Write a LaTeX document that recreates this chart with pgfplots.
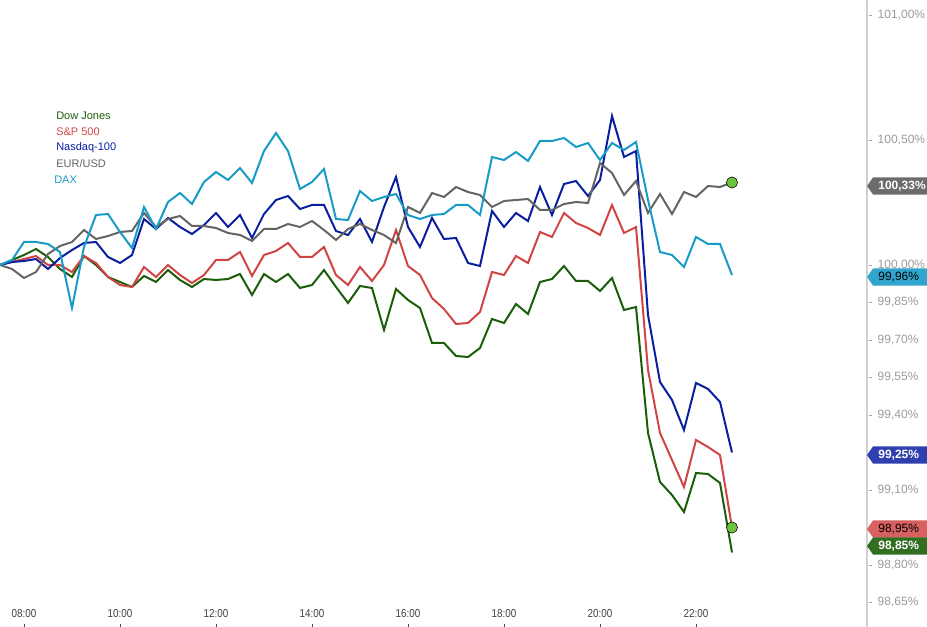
\documentclass[border=0pt]{standalone}
\usepackage{pgfplots}
\pgfplotsset{compat=1.18}
\usepackage{pgfplotstable}
\usepackage{fontspec}
\setmainfont{Liberation Sans}

\definecolor{dowc}{RGB}{26,94,10}
\definecolor{spc}{RGB}{208,68,68}
\definecolor{nasc}{RGB}{10,30,160}
\definecolor{eurc}{RGB}{100,100,100}
\definecolor{daxc}{RGB}{25,155,200}
\definecolor{dotc}{RGB}{110,195,60}
\definecolor{ticklab}{RGB}{155,155,155}

% t in hours, values in % of the start value
\pgfplotstableread{
t     dow     sp      nas     eur     dax
7.50  100.000 100.000 100.000 100.000 100.000
7.75  100.020 100.012 100.012 99.984  100.020
8.00  100.040 100.024 100.016 99.948  100.092
8.25  100.064 100.036 100.024 99.972  100.092
8.50  100.032 100.000 99.984  100.044 100.084
8.75  99.984  100.000 100.028 100.076 100.052
9.00  99.952  99.972  100.060 100.092 99.828
9.25  100.036 100.036 100.088 100.140 100.072
9.50  100.000 100.008 100.092 100.104 100.200
9.75  99.952  99.952  100.032 100.116 100.204
10.00 99.932  99.920  100.008 100.132 100.132
10.25 99.912  99.912  100.040 100.136 100.068
10.50 99.956  99.992  100.184 100.208 100.232
10.75 99.932  99.952  100.144 100.152 100.144
11.00 99.980  100.000 100.188 100.184 100.252
11.25 99.940  99.960  100.152 100.196 100.288
11.50 99.912  99.928  100.124 100.156 100.244
11.75 99.944  99.960  100.160 100.156 100.332
12.00 99.940  100.020 100.208 100.148 100.372
12.25 99.944  100.020 100.152 100.128 100.340
12.50 99.964  100.052 100.200 100.120 100.388
12.75 99.880  99.956  100.108 100.096 100.328
13.00 99.964  100.040 100.204 100.144 100.456
13.25 99.932  100.056 100.260 100.144 100.528
13.50 99.964  100.088 100.276 100.164 100.456
13.75 99.908  100.032 100.224 100.152 100.304
14.00 99.920  100.032 100.240 100.176 100.332
14.25 99.980  100.072 100.240 100.140 100.384
14.50 99.912  99.960  100.136 100.100 100.184
14.75 99.848  99.920  100.120 100.144 100.180
15.00 99.916  99.992  100.184 100.164 100.296
15.25 99.908  99.936  100.092 100.140 100.256
15.50 99.740  100.000 100.232 100.120 100.272
15.75 99.904  100.140 100.352 100.088 100.284
16.00 99.860  99.996  100.152 100.232 100.200
16.25 99.828  99.960  100.072 100.208 100.184
16.50 99.688  99.868  100.188 100.288 100.200
16.75 99.688  99.824  100.104 100.272 100.204
17.00 99.636  99.764  100.108 100.312 100.240
17.25 99.632  99.768  100.008 100.292 100.240
17.50 99.668  99.812  99.996  100.280 100.200
17.75 99.784  99.972  100.216 100.232 100.432
18.00 99.768  99.960  100.152 100.256 100.420
18.25 99.844  100.036 100.208 100.260 100.452
18.50 99.804  100.008 100.176 100.264 100.416
18.75 99.932  100.132 100.312 100.220 100.496
19.00 99.944  100.112 100.200 100.220 100.496
19.25 99.996  100.208 100.324 100.244 100.508
19.50 99.936  100.168 100.336 100.252 100.472
19.75 99.936  100.148 100.276 100.248 100.488
20.00 99.896  100.120 100.340 100.408 100.420
20.25 99.948  100.240 100.596 100.368 100.488
20.50 99.820  100.128 100.432 100.280 100.460
20.75 99.832  100.152 100.456 100.336 100.492
21.00 99.328  99.580  99.800  100.208 100.260
21.25 99.132  99.328  99.532  100.284 100.052
21.50 99.080  99.220  99.460  100.204 100.040
21.75 99.012  99.112  99.340  100.292 99.992
22.00 99.168  99.300  99.528  100.272 100.112
22.25 99.164  99.272  99.504  100.316 100.084
22.50 99.128  99.240  99.452  100.312 100.084
22.75 98.850  98.950  99.250  100.330 99.960
}\quotes

% value tag on the right axis: y, fill, text colour, text, font
\newcommand{\valtag}[5]{%
  \fill[#2] (axis cs:25.5625,#1) -- ++(4.5pt,6.4pt) -- ++(41pt,0pt) -- ++(0pt,-12.8pt) -- ++(-41pt,0pt) -- cycle;
  \node[anchor=west, text=#3, font=#5, inner sep=0pt] at ([xshift=8.3pt]axis cs:25.5625,#1) {#4};
}
\newcommand{\tl}[1]{\scalebox{0.86}[1]{#1}}

\begin{document}
\begin{tikzpicture}
\begin{axis}[
  name=ax,
  scale only axis,
  width=650.25pt, height=470.25pt,
  xmin=7.5, xmax=25.5625,
  ymin=98.552, ymax=101.06,
  axis line style={draw=none},
  clip=false,
  xtick={8,10,12,14,16,18,20,22},
  xticklabels={\tl{08:00},\tl{10:00},\tl{12:00},\tl{14:00},\tl{16:00},\tl{18:00},\tl{20:00},\tl{22:00}},
  xtick pos=bottom,
  xtick style={draw=black!70, line width=0.6pt},
  xticklabel style={font=\fontsize{8.6}{10}\selectfont, text=black!75, anchor=center, yshift=9.8pt},
  ytick={98.65,98.80,99.10,99.40,99.55,99.70,99.85,100.00,100.50,101.00},
  yticklabels={98{,}65\%,98{,}80\%,99{,}10\%,99{,}40\%,99{,}55\%,99{,}70\%,99{,}85\%,100{,}00\%,100{,}50\%,101{,}00\%},
  ytick pos=right,
  yticklabel pos=right,
  ytick style={draw=black!35, line width=0.6pt, xshift=3.9pt},
  yticklabel style={font=\fontsize{9}{10}\selectfont, text=ticklab, anchor=west, xshift=4.5pt},
  tick align=inside,
  major tick length=2.4pt,
]
\draw[black!18, line width=0.8pt] (rel axis cs:1,0) -- (rel axis cs:1,1);

\addplot[dowc, line width=1.5pt] table[x=t, y=dow] {\quotes};
\addplot[spc,  line width=1.5pt] table[x=t, y=sp]  {\quotes};
\addplot[nasc, line width=1.5pt] table[x=t, y=nas] {\quotes};
\addplot[eurc, line width=1.5pt] table[x=t, y=eur] {\quotes};
\addplot[daxc, line width=1.5pt] table[x=t, y=dax] {\quotes};

\addplot[only marks, mark=*, mark size=4.2pt, mark options={draw=none, fill=dotc}]
  coordinates {(22.75,100.330) (22.75,98.950)};

\valtag{100.316}{eurc!95!white}{white}{100,33\%}{\fontsize{9}{10}\selectfont\bfseries}
\valtag{99.952}{daxc!90!white}{black}{99,96\%}{\fontsize{9}{10}\selectfont}
\valtag{99.240}{nasc!85!white}{white}{99,25\%}{\fontsize{9}{10}\selectfont\bfseries}
\valtag{98.944}{spc!85!white}{black}{98,95\%}{\fontsize{9}{10}\selectfont}
\valtag{98.876}{dowc!90!white}{white}{98,85\%}{\fontsize{9}{10}\selectfont\bfseries}

\node[anchor=west, inner sep=0pt, text=dowc, font=\fontsize{8.25}{9}\selectfont] at (axis description cs:0.0646,0.815) {Dow Jones};
\node[anchor=west, inner sep=0pt, text=spc, font=\fontsize{8.25}{9}\selectfont] at (axis description cs:0.0646,0.7895) {S\&P 500};
\node[anchor=west, inner sep=0pt, text=nasc, font=\fontsize{8.25}{9}\selectfont] at (axis description cs:0.0646,0.764) {Nasdaq-100};
\node[anchor=west, inner sep=0pt, text=eurc, font=\fontsize{8.25}{9}\selectfont] at (axis description cs:0.0646,0.7384) {EUR/USD};
\node[anchor=west, inner sep=0pt, text=daxc, font=\fontsize{8.25}{9}\selectfont] at (axis description cs:0.0623,0.7129) {DAX};
\end{axis}
\pgfresetboundingbox
\path (ax.south west) rectangle ([xshift=45pt]ax.north east);
\end{tikzpicture}
\end{document}
